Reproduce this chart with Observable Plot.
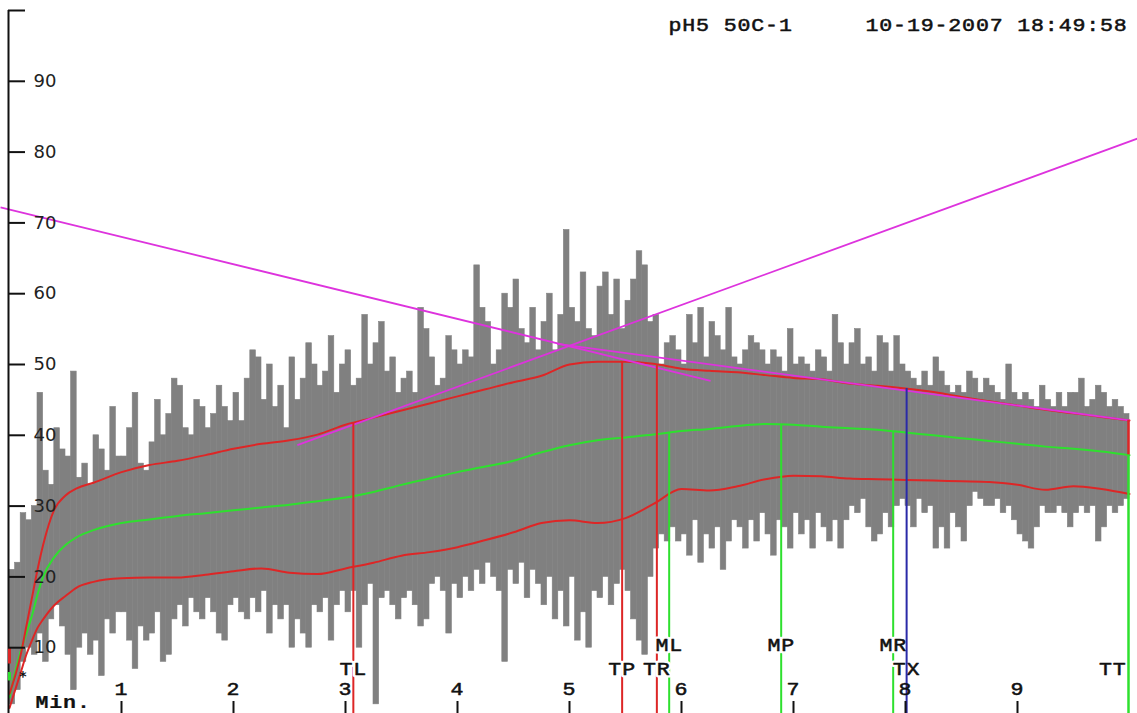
<!DOCTYPE html>
<html><head><meta charset="utf-8">
<script src="https://cdn.jsdelivr.net/npm/d3@7"></script>
<script src="https://cdn.jsdelivr.net/npm/@observablehq/plot@0.6"></script>
<style>
html,body{margin:0;padding:0;background:#fff;}
#chart svg{display:block}
g[font-family="Liberation Mono"] text{letter-spacing:0.7px}
</style></head><body><div id="chart"></div>
<script>
// ---- data (minutes on x, torque units on y) ----
const barStep = 0.05;
const barHi = [
21,22,29,28,30,46,35,33,41,38, 37,49,34,36,33,40,38,35,44,37,
37,41,46,36,35,39,45,40,43,48, 47,41,40,45,44,41,43,47,44,42,
46,42,48,52,51,45,50,44,47,41, 51,45,48,53,50,47,49,54,46,50,
52,47,48,57,50,53,56,49,51,46, 48,49,46,58,55,51,47,48,54,52,
50,52,51,64,58,56,50,52,60,58, 62,55,53,58,52,56,60,52,57,69,
58,56,63,55,54,61,63,57,62,55, 59,62,66,64,56,57,50,53,54,52,
50,57,53,58,51,56,54,52,58,51, 50,52,54,53,52,50,52,51,49,55,
50,51,50,49,52,51,49,57,53,50, 53,55,50,51,49,54,53,49,54,50,
49,48,47,49,47,51,49,47,46,47, 46,49,48,46,48,47,46,45,50,46,
45,46,45,44,47,45,44,46,44,46, 46,48,44,45,47,46,44,45,44,43];
const barLo = [
2,4,8,10,9,12,8,14,16,13, 9,4,10,12,9,11,6,14,12,15,
15,11,7,13,11,12,15,8,9,14, 16,13,17,15,14,17,15,12,11,16,
17,15,14,17,15,18,12,16,14,16, 10,14,12,10,16,15,17,11,16,18,
15,18,10,16,19,2,17,18,16,14, 17,18,16,13,14,19,20,18,12,19,
17,20,18,21,19,22,20,18,8,21, 19,22,17,21,19,16,20,14,18,13,
20,11,15,10,18,17,20,16,19,21, 18,14,11,9,20,24,26,25,27,25,
26,23,28,22,26,24,27,21,25,28, 27,24,28,25,29,26,23,28,27,24,
29,26,28,24,29,27,25,28,24,28, 30,29,31,27,25,26,29,27,30,31,
30,27,31,29,30,24,27,24,29,27, 25,30,32,31,30,30,31,29,30,28,
26,25,24,27,30,29,29,30,29,27, 29,30,29,30,25,27,30,29,30,31];

const curveT     = [0,0.05,0.1,0.15,0.2,0.25,0.3,0.4,0.5,0.6,0.75,1,1.25,1.5,1.75,2,2.25,2.5,2.75,3,3.25,3.5,3.75,4,4.25,4.5,4.75,5,5.25,5.5,5.75,6,6.25,6.5,6.75,7,7.25,7.5,7.75,8,8.25,8.5,8.75,9,9.25,9.5,9.75,10];
const upperVals  = [3.5,6,9,13,17,21,24.5,29.5,31.5,32.5,33.3,34.8,35.8,36.4,37.2,38.1,38.8,39.3,40.1,41.5,42.5,43.5,44.5,45.5,46.5,47.5,48.4,50,50.4,50.4,50.1,49.4,49.1,48.9,48.5,48.1,47.9,47.3,47,46.6,46.1,45.4,44.8,44.2,43.6,43.1,42.6,42.1];
const medianVals = [3,6.5,9.5,12,14.5,17.5,20,22.8,24.5,25.6,26.6,27.6,28.1,28.6,29,29.4,29.8,30.2,30.7,31.2,32,33,33.9,34.8,35.6,36.4,37.6,38.6,39.3,39.7,40.1,40.6,40.9,41.3,41.6,41.5,41.2,41,40.8,40.4,40,39.6,39.2,38.8,38.4,38.1,37.7,37.2];
const lowerVals  = [1.5,4,6.5,9,11,12.8,14,16,17.3,18.5,19.3,19.8,19.9,19.9,20.3,20.8,21.2,20.6,20.4,21.2,22,23,23.5,24.2,25.2,26.3,27.6,28,27.6,28.3,30.3,32.4,32.2,32.8,33.8,34.3,34.2,33.9,33.8,33.7,33.6,33.5,33.4,33,32.3,32.8,32.4,31.7];

// tangent lines: start/end (minutes, value)
const tangentT1 = [-0.08, 4.89, 2.57];
const tangentV1 = [72.2, 52.9, 38.6];
const tangentT2 = [6.26, 10, 10.07];
const tangentV2 = [47.7, 42.1, 81.9];

// event markers
const markerNames = ["TL","TP","TR","ML","MP","MR","TX"];
const markerT     = [3.07, 5.47, 5.78, 5.89, 6.89, 7.89, 8.01];
const markerTop   = [41.8, 50.4, 50.0, 40.3, 41.5, 40.5, 46.6];
const endName = "TT", endT = 10, endUpper = 42.1, endMedian = 37.2;
const startRed = [7.7, 10], startGreen = [5.3, 6.5];
const startStar = {t: 0.12, v: 6};

const xTicks = [1,2,3,4,5,6,7,8,9];
const yTicks = [10,20,30,40,50,60,70,80,90,100];
const yTickLabels = [10,20,30,40,50,60,70,80,90];
const xUnit = "Min.";
const titleText = "pH5 50C-1";
const dateText = "10-19-2007 18:49:58";

// ---- tables ----
const bars = barHi.map((hi, i) => ({t0: i * barStep, t1: (i + 1) * barStep, hi, lo: barLo[i]}));
const curves = curveT.map((t, i) => ({t, upper: upperVals[i], median: medianVals[i], lower: lowerVals[i]}));
const tangents = tangentT1.map((t, i) => ({t1: t, v1: tangentV1[i], t2: tangentT2[i], v2: tangentV2[i]}));
const markers = markerNames.map((name, i) => ({name, t: markerT[i], top: markerTop[i]}));
const torqueMarks = markers.filter(d => d.name[0] === "T" && d.name !== "TX");
const medianMarks = markers.filter(d => d.name[0] === "M");
const maxMarks = markers.filter(d => d.name === "TX");
const endMark = [{name: endName, t: endT, upper: endUpper, median: endMedian}];

const GRAY = "#808080", RED = "#dd2626", GREEN = "#2ee02e", MAG = "#dd33dd", BLUE = "#2a2aa8", INK = "#111";
const MONO = "Liberation Mono";
const monoText = {fontFamily: MONO, fontSize: 18, fontWeight: "normal", fill: INK, lineAnchor: "middle", stroke: INK, strokeWidth: 0.5};
const haloText = {fontFamily: MONO, fontSize: 18, fill: "#fff", lineAnchor: "middle", stroke: "#fff", strokeWidth: 5};

const chart = Plot.plot({
  width: 1137, height: 713,
  marginTop: 10, marginBottom: 0, marginLeft: 8, marginRight: 0,
  x: {domain: [0, 10], range: [9, 1129], axis: null},
  y: {domain: [0, 100], range: [718, 10], axis: null},
  style: {background: "#fff"},
  marks: [
    Plot.rect(bars, {x1: "t0", x2: "t1", y1: "lo", y2: "hi", fill: GRAY, stroke: GRAY, strokeWidth: 0.6}),
    Plot.line(curves, {x: "t", y: "median", stroke: GREEN, strokeWidth: 2, curve: "monotone-x"}),
    Plot.line(curves, {x: "t", y: "upper", stroke: RED, strokeWidth: 2, curve: "monotone-x"}),
    Plot.line(curves, {x: "t", y: "lower", stroke: RED, strokeWidth: 2, curve: "monotone-x"}),
    Plot.link(tangents, {x1: "t1", y1: "v1", x2: "t2", y2: "v2", stroke: MAG, strokeWidth: 1.8}),
    Plot.ruleX(torqueMarks, {x: "t", y1: 0, y2: "top", stroke: RED, strokeWidth: 2}),
    Plot.ruleX(medianMarks, {x: "t", y1: 0, y2: "top", stroke: GREEN, strokeWidth: 2}),
    Plot.ruleX(endMark, {x: "t", y1: "median", y2: "upper", stroke: RED, strokeWidth: 2.5, dx: -1}),
    Plot.ruleX(endMark, {x: "t", y1: 0, y2: "median", stroke: GREEN, strokeWidth: 2.5, dx: -1}),
    // white halos under the event labels, cutting the lines
    Plot.text(medianMarks, {x: "t", text: "name", frameAnchor: "bottom", dy: -68, ...haloText}),
    Plot.text(torqueMarks.concat(maxMarks), {x: "t", text: "name", frameAnchor: "bottom", dy: -44, ...haloText}),
    // event labels
    Plot.text(medianMarks, {x: "t", text: "name", frameAnchor: "bottom", dy: -68, ...monoText}),
    Plot.text(torqueMarks.concat(maxMarks), {x: "t", text: "name", frameAnchor: "bottom", dy: -44, ...monoText}),
    Plot.text(endMark, {x: "t", text: "name", frameAnchor: "bottom", dy: -44, textAnchor: "end", dx: -3, ...monoText}),
    Plot.ruleX(maxMarks, {x: "t", y1: 0, y2: "top", stroke: BLUE, strokeWidth: 2}),
    // axes
    Plot.ruleX([0], {stroke: INK, strokeWidth: 2, dx: -1}),
    Plot.ruleX([{t: 0, a: startRed[0], b: startRed[1]}], {x: "t", y1: "a", y2: "b", stroke: RED, strokeWidth: 3}),
    Plot.ruleX([{t: 0, a: startGreen[0], b: startGreen[1]}], {x: "t", y1: "a", y2: "b", stroke: GREEN, strokeWidth: 3}),
    Plot.text([startStar], {x: "t", y: "v", text: () => "*", fontFamily: "DejaVu Sans", fontSize: 14, fontWeight: "bold", fill: INK}),
    Plot.tickY(yTicks, {y: d => d, stroke: INK, strokeWidth: 2, insetRight: 1137 - 25}),
    Plot.text(yTickLabels, {y: d => d, text: d => String(d), frameAnchor: "left", dx: 25, textAnchor: "start", fontFamily: "DejaVu Sans", fontSize: 18, fill: "#222"}),
    Plot.tickX(xTicks, {x: d => d, stroke: INK, strokeWidth: 2, insetTop: 691}),
    Plot.text(xTicks, {x: d => d, text: d => String(d), frameAnchor: "bottom", dy: -24, ...monoText}),
    Plot.text([xUnit], {text: d => d, frameAnchor: "bottom-left", dx: 27, dy: -11, textAnchor: "start", ...monoText, fontWeight: "bold", strokeWidth: 0.2}),
    Plot.text([titleText], {text: d => d, frameAnchor: "top-left", dx: 660, dy: 15, textAnchor: "start", ...monoText}),
    Plot.text([dateText], {text: d => d, frameAnchor: "top-left", dx: 857, dy: 15, textAnchor: "start", ...monoText})
  ]
});
// widen the Courier-like glyphs, as in the stretched original
d3.select(chart).selectAll('g[font-family="Liberation Mono"] text').each(function() {
  const tr = this.getAttribute("transform");
  if (tr) this.setAttribute("transform", tr + " scale(1.2,1)");
});
document.getElementById("chart").appendChild(chart);
</script></body></html>
